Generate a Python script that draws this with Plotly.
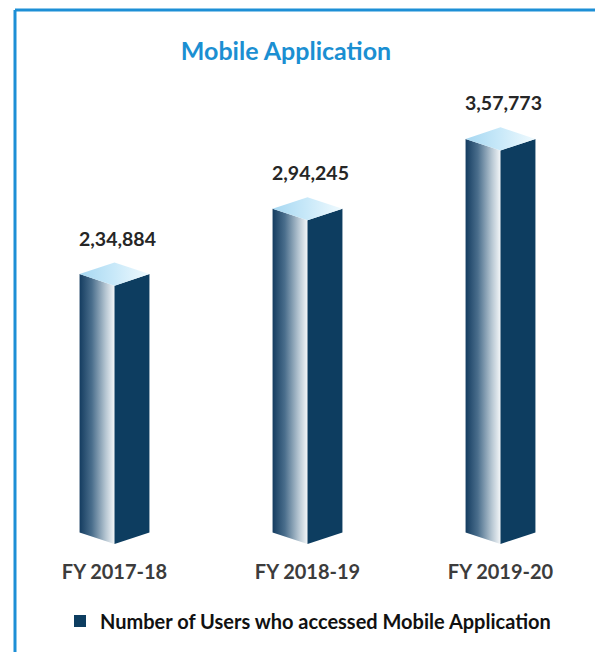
import plotly.graph_objects as go

# Data
years = ["FY 2017-18", "FY 2018-19", "FY 2019-20"]
users = [234884, 294245, 357773]
value_labels = ["2,34,884", "2,94,245", "3,57,773"]
series_name = "Number of Users who accessed Mobile Application"

# Styling for the pseudo-3D columns
half_w = 0.181  # half width of a column, in category units
depth = 10500  # height of the top/bottom bevel, in value units
dark = "#0d3d60"
side_scale = [[0, "#143c60"], [0.35, "#4a6e8c"], [0.75, "#b6c6d2"], [1, "#f3f6f8"]]
top_scale = [[0, "#a6d7f1"], [0.5, "#c9e9f9"], [1, "#f0fafe"]]

# the page body adds an 8px margin, so layout is laid out 8px up/left
W, H, off = 603, 652, 8
l, r, t, b = 10, 14, 52, 116
pw, ph = W - l - r, H - t - b


def px(xp):
    return (xp - off - l) / pw


def py(yp):
    return (H - b - (yp - off)) / ph


fig = go.Figure()

for i, v in enumerate(users):
    # left face, shaded dark -> white
    fig.add_trace(go.Scatter(
        x=[i - half_w, i, i, i - half_w, i - half_w],
        y=[depth, 0, v, v + depth, depth],
        mode="lines", fill="toself", line=dict(width=0),
        fillgradient=dict(type="horizontal", colorscale=side_scale),
        showlegend=False, hoverinfo="skip",
    ))
    # right face, flat navy
    fig.add_trace(go.Scatter(
        x=[i, i + half_w, i + half_w, i, i],
        y=[0, depth, v + depth, v, 0],
        mode="lines", fill="toself", fillcolor=dark, line=dict(width=0),
        showlegend=False, hoverinfo="skip",
    ))
    # top face, light blue
    fig.add_trace(go.Scatter(
        x=[i - half_w, i, i + half_w, i, i - half_w],
        y=[v + depth, v, v + depth, v + 2 * depth, v + depth],
        mode="lines", fill="toself", line=dict(width=0),
        fillgradient=dict(type="horizontal", colorscale=top_scale),
        showlegend=False, hoverinfo="skip",
    ))
    fig.add_annotation(
        x=i, y=v + 2 * depth, text=value_labels[i], showarrow=False,
        yanchor="bottom", yshift=11, xshift=3,
        font=dict(size=19.5, color="#262626", family="Lato", weight="bold"),
    )

# legend entry only
fig.add_trace(go.Bar(x=[0], y=[0], name=series_name, marker=dict(color=dark, line=dict(width=0)),
                     hoverinfo="skip"))

# outer frame (top and left edges)
frame = dict(color="#1d8fd6", width=3)
fig.add_shape(type="line", xref="paper", yref="paper", x0=px(15), x1=px(620), y0=py(10), y1=py(10), line=frame)
fig.add_shape(type="line", xref="paper", yref="paper", x0=px(15), x1=px(15), y0=py(10), y1=py(670), line=frame)

fig.update_layout(
    width=W, height=H,
    margin=dict(l=l, r=r, t=t, b=b),
    paper_bgcolor="white", plot_bgcolor="white",
    font=dict(family="Lato"),
    title=dict(text="<b>Mobile Application</b>", x=(286 - off) / W, xanchor="center",
               y=1 - (51 - off) / H, yanchor="middle",
               font=dict(size=25, color="#1b8fd2", family="Lato")),
    showlegend=True,
    legend=dict(orientation="h", x=px(308), xanchor="center", y=py(621), yanchor="middle",
                font=dict(size=20, color="#111111", family="Lato", weight="bold"),
                itemwidth=30),
)
fig.update_xaxes(
    range=[-0.5, 2.5], tickmode="array", tickvals=[0, 1, 2], ticktext=years,
    showgrid=False, zeroline=False, showline=False, ticks="",
    ticklabelstandoff=14,
    tickfont=dict(size=20, color="#3c3c3c", family="Lato", weight="bold"),
    fixedrange=True, automargin=False,
)
fig.update_yaxes(range=[0, ph / 0.0011], visible=False, showgrid=False, zeroline=False,
                 fixedrange=True, automargin=False)

fig.write_html("out.html")
